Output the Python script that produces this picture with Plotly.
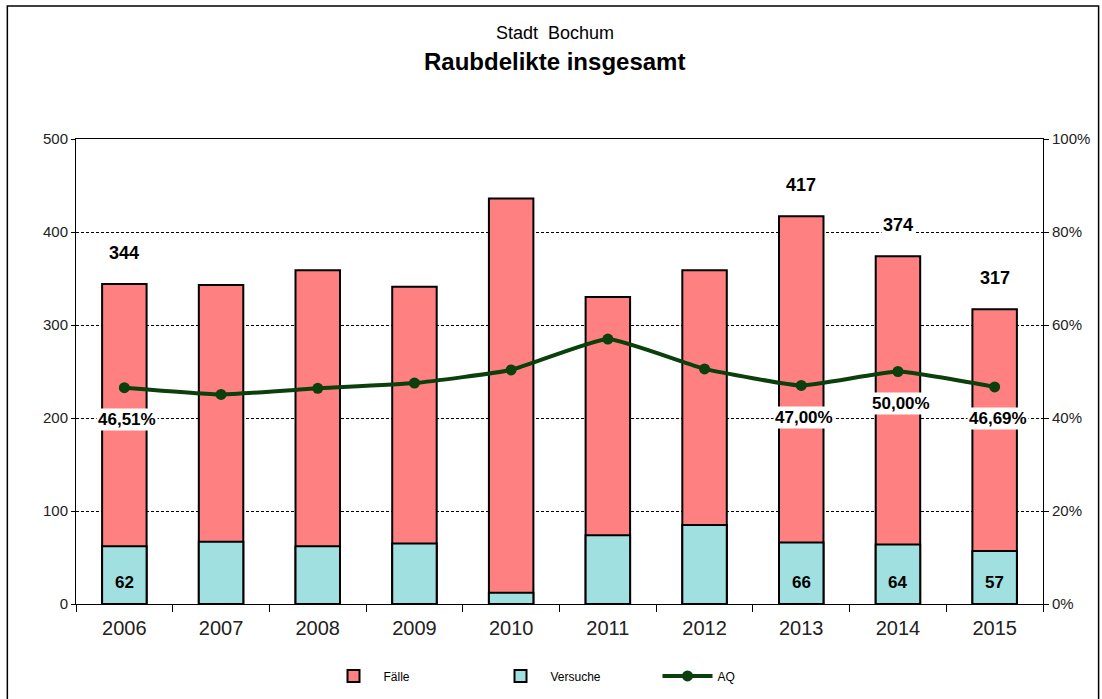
import plotly.graph_objects as go

jahre = ['2006', '2007', '2008', '2009', '2010', '2011', '2012', '2013', '2014', '2015']
faelle = [344, 343, 359, 341, 436, 330, 359, 417, 374, 317]
versuche = [62, 67, 62, 65, 12, 74, 85, 66, 64, 57]
aq = [46.51, 45.06, 46.38, 47.51, 50.34, 56.97, 50.56, 47.00, 50.00, 46.69]
# Jahre, bei denen im Original Werte beschriftet sind
beschriftet = ['2006', '2013', '2014', '2015']

font = 'Liberation Sans, Arial, sans-serif'

fig = go.Figure()
fig.add_trace(go.Bar(x=jahre, y=faelle, name='Fälle', width=0.46,
                     marker=dict(color='#FF8080', line=dict(color='black', width=2))))
fig.add_trace(go.Bar(x=jahre, y=versuche, name='Versuche', width=0.46,
                     marker=dict(color='#A0E0E0', line=dict(color='black', width=2))))
fig.add_trace(go.Scatter(x=jahre, y=[v / 100 for v in aq], name='AQ', yaxis='y2',
                         mode='lines+markers', line=dict(color='#0B3F0B', width=4, shape='spline', smoothing=0.4),
                         marker=dict(color='#0B3F0B', size=11)))

# Beschriftungen (x als Kategorie-Index)
for i, (j, f, v, a) in enumerate(zip(jahre, faelle, versuche, aq)):
    if j not in beschriftet:
        continue
    fig.add_annotation(x=i, y=f, yshift=31, text='<b>%d</b>' % f, showarrow=False,
                       bgcolor='white', font=dict(size=18, color='black', family=font))
    fig.add_annotation(x=i, y=0, yshift=22, text='<b>%d</b>' % v, showarrow=False,
                       font=dict(size=17, color='black', family=font))
    fig.add_annotation(x=i, y=a / 100, yref='y2', yshift=-32, xshift=3,
                       text='<b>%s%%</b>' % ('%.2f' % a).replace('.', ','), showarrow=False,
                       bgcolor='white', font=dict(size=17, color='black', family=font))

# Titel
fig.add_annotation(xref='paper', yref='paper', x=0.495, y=1.227, xanchor='center', yanchor='middle',
                   text='Stadt  Bochum', showarrow=False, font=dict(size=18, color='black', family=font))
fig.add_annotation(xref='paper', yref='paper', x=0.495, y=1.166, xanchor='center', yanchor='middle',
                   text='<b>Raubdelikte insgesamt</b>', showarrow=False,
                   font=dict(size=24, color='black', family=font))

# Rahmen um das ganze Diagramm
fig.add_shape(type='rect', xref='paper', yref='paper', x0=-0.071, x1=1.0575, y0=-0.25, y1=1.286,
              line=dict(color='black', width=1.5))

fig.update_layout(
    width=1102, height=699,
    margin=dict(l=76, r=56, t=139, b=95),
    barmode='overlay',
    plot_bgcolor='white', paper_bgcolor='white',
    separators=',.',
    font=dict(family=font, color='black'),
    xaxis=dict(type='category', range=[-0.5, 9.5], tickson='boundaries', ticks='outside', ticklen=7,
               tickcolor='black', showline=True, linecolor='black', linewidth=1, mirror=True,
               showgrid=False, tickangle=0, ticklabelstandoff=6, tickfont=dict(size=20, color='#222')),
    yaxis=dict(range=[0, 500], dtick=100, ticks='outside', ticklen=4, tickcolor='black',
               showline=True, linecolor='black', linewidth=1, gridcolor='black', griddash='3px,2px',
               gridwidth=1, zeroline=False, tickfont=dict(size=15, color='#222')),
    yaxis2=dict(range=[0, 1], dtick=0.2, tickformat='.0%', overlaying='y', side='right',
                ticks='outside', ticklen=5, tickcolor='black', showline=True, linecolor='black',
                linewidth=1, showgrid=False, zeroline=False, tickfont=dict(size=15, color='#222')),
    legend=dict(orientation='h', x=0.515, xanchor='center', yref='container', y=0.033, yanchor='middle',
                font=dict(size=12, color='black'), entrywidth=102, itemwidth=50),
    showlegend=True,
)

fig.write_html('out.html', config={'displayModeBar': False},
               post_script="document.body.style.margin='0';")
